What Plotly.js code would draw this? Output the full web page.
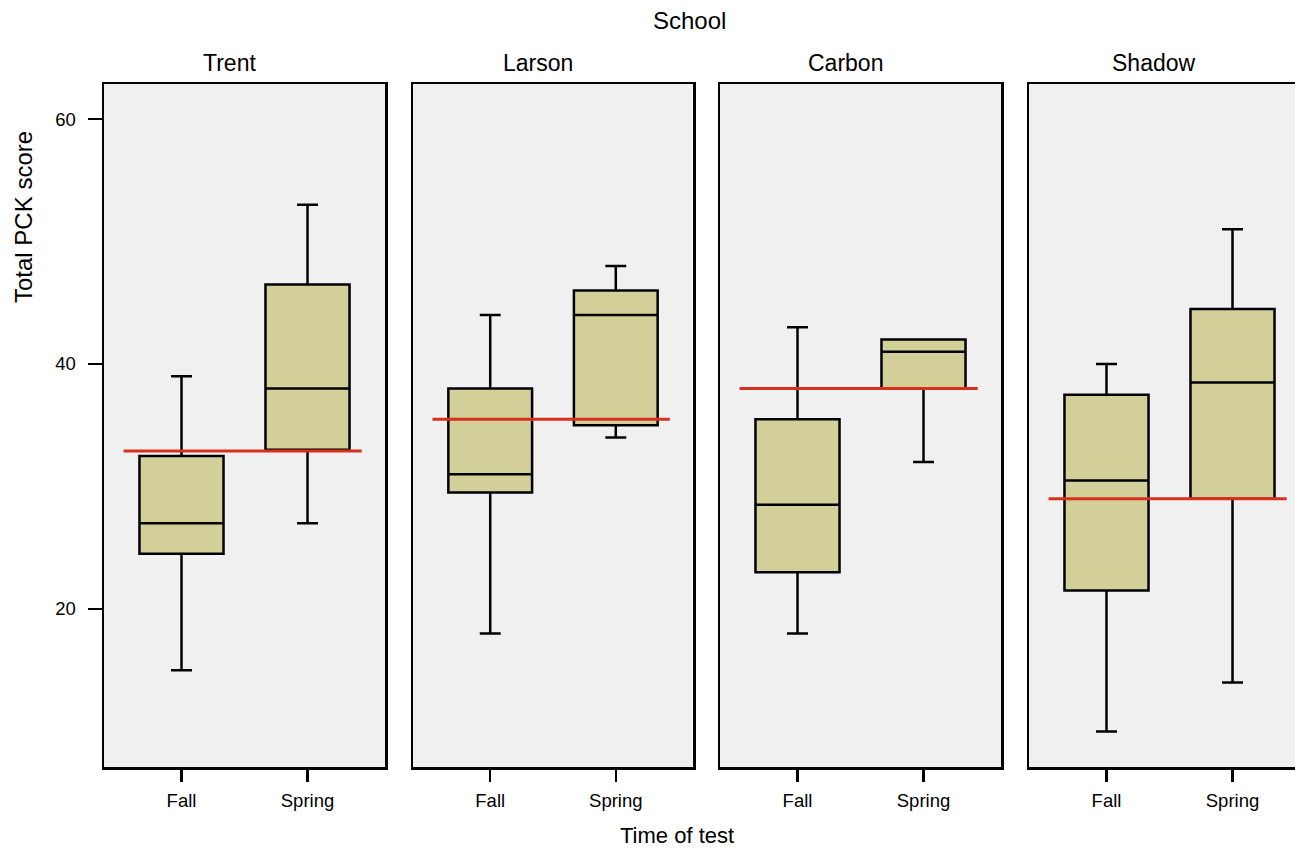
<!DOCTYPE html>
<html>
<head>
<meta charset="utf-8">
<script src="https://cdn.plot.ly/plotly-3.0.1.min.js"></script>
<style>
html,body{margin:0;padding:0;overflow:hidden;background:#fff;}
#chart{width:1320px;height:849px;}
</style>
</head>
<body>
<div id="chart"></div>
<script>
// ---- data ----
var schools = ['Trent', 'Larson', 'Carbon', 'Shadow'];
var times = ['Fall', 'Spring'];
var yTicks = [20, 40, 60];
// per school: [Fall, Spring]
var lowerWhisker = [[15, 27], [18, 34], [18, 32], [10, 14]];
var q1Values     = [[24.5, 33], [29.5, 35], [23, 38], [21.5, 29]];
var medianValues = [[27, 38], [31, 44], [28.5, 41], [30.5, 38.5]];
var q3Values     = [[32.5, 46.5], [38, 46], [35.5, 42], [37.5, 44.5]];
var upperWhisker = [[39, 53], [44, 48], [43, 42], [40, 51]];
var schoolMean   = [32.9, 35.5, 38, 29];

// ---- layout helpers ----
var plotW = 1206;
var panelPx = [[0, 281], [309, 589], [616, 897], [925, 1206]];
var boxFill = '#d3cf99';
var bg = '#f0f0f0';
var fontFam = 'Liberation Sans, Arial, sans-serif';

var traces = [];
var layout = {
  width: 1320, height: 849,
  margin: {l: 104, r: 10, t: 84, b: 82},
  paper_bgcolor: '#ffffff',
  plot_bgcolor: bg,
  showlegend: false,
  font: {family: fontFam, color: '#000', size: 18},
  shapes: [],
  annotations: []
};

schools.forEach(function (s, i) {
  var n = i === 0 ? '' : String(i + 1);
  traces.push({
    type: 'box',
    x: times,
    q1: q1Values[i],
    median: medianValues[i],
    q3: q3Values[i],
    lowerfence: lowerWhisker[i],
    upperfence: upperWhisker[i],
    width: 0.667,
    whiskerwidth: 0.25,
    fillcolor: boxFill,
    line: {color: '#000', width: 2.5},
    boxpoints: false,
    hoverinfo: 'skip',
    xaxis: 'x' + n,
    yaxis: 'y' + n
  });
  layout['xaxis' + n] = {
    domain: [panelPx[i][0] / plotW, panelPx[i][1] / plotW],
    anchor: 'y' + n,
    type: 'category',
    range: [-0.615, 1.615],
    showline: true, mirror: true, linecolor: '#000', linewidth: 2.5,
    ticks: 'outside', ticklen: 12, tickwidth: 2.5, tickcolor: '#000',
    ticklabelstandoff: 3,
    showgrid: false, zeroline: false,
    tickfont: {size: 18.5, family: fontFam}
  };
  layout['yaxis' + n] = {
    anchor: 'x' + n,
    range: [7.1, 62.86],
    showline: true, mirror: true, linecolor: '#000', linewidth: 2.5,
    showgrid: false, zeroline: false,
    tickvals: yTicks,
    ticks: i === 0 ? 'outside' : '',
    ticklen: 14, tickwidth: 2.5, tickcolor: '#000',
    showticklabels: i === 0,
    ticklabelstandoff: 8,
    tickfont: {size: 18.5, family: fontFam}
  };
  if (i > 0) layout['yaxis' + n].matches = 'y';
  layout.shapes.push({
    type: 'line', xref: 'x' + n, yref: 'y' + n,
    x0: -0.46, x1: 1.43, y0: schoolMean[i], y1: schoolMean[i],
    line: {color: '#d8301c', width: 3}, layer: 'above'
  });
  layout.annotations.push({
    text: s, xref: 'x' + n, yref: 'paper',
    x: 0.38, y: (767 - 63.5) / 683, xanchor: 'center', yanchor: 'middle',
    showarrow: false, font: {size: 23, family: fontFam}
  });
});

layout.annotations.push({
  text: 'School', xref: 'paper', yref: 'paper',
  x: (689 - 104) / plotW, y: (767 - 20) / 683,
  xanchor: 'center', yanchor: 'middle', showarrow: false,
  font: {size: 24, family: fontFam}
});
layout.annotations.push({
  text: 'Time of test', xref: 'paper', yref: 'paper',
  x: (677 - 104) / plotW, y: (767 - 835) / 683,
  xanchor: 'center', yanchor: 'middle', showarrow: false,
  font: {size: 22, family: fontFam}
});
layout.annotations.push({
  text: 'Total PCK score', xref: 'paper', yref: 'paper',
  x: (23 - 104) / plotW, y: (767 - 217) / 683,
  xanchor: 'center', yanchor: 'middle', textangle: -90, showarrow: false,
  font: {size: 24, family: fontFam}
});

Plotly.newPlot('chart', traces, layout, {displayModeBar: false, staticPlot: true});
</script>
</body>
</html>
